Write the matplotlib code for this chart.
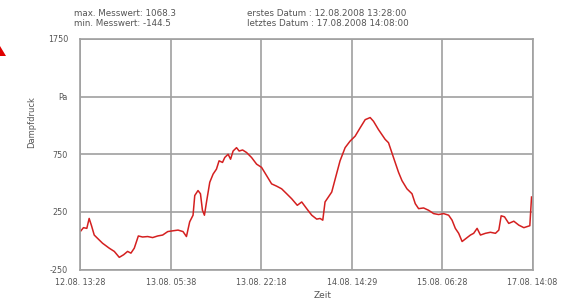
import matplotlib
matplotlib.use("Agg")
import matplotlib.pyplot as plt
import matplotlib.patches as patches

# position along the time axis (in tick intervals) and vapour pressure in Pa
pos = [0.003, 0.033, 0.07, 0.096, 0.122, 0.152, 0.188, 0.244, 0.318, 0.374,
       0.429, 0.477, 0.521, 0.558, 0.595, 0.64, 0.687, 0.743, 0.798, 0.854,
       0.909, 0.965, 1.006, 1.079, 1.134, 1.172, 1.208, 1.245, 1.264, 1.3,
       1.327, 1.349, 1.371, 1.394, 1.43, 1.467, 1.504, 1.533, 1.571, 1.596,
       1.633, 1.66, 1.688, 1.726, 1.755, 1.793, 1.837, 1.892, 1.948, 2.003,
       2.059, 2.114, 2.17, 2.225, 2.281, 2.336, 2.398, 2.447, 2.502, 2.558,
       2.613, 2.65, 2.68, 2.705, 2.742, 2.779, 2.827, 2.871, 2.927, 2.982,
       3.038, 3.093, 3.149, 3.204, 3.241, 3.296, 3.37, 3.407, 3.462, 3.518,
       3.556, 3.611, 3.667, 3.703, 3.74, 3.795, 3.85, 3.906, 3.961, 4.017,
       4.072, 4.11, 4.146, 4.183, 4.221, 4.257, 4.313, 4.349, 4.387, 4.424,
       4.479, 4.534, 4.59, 4.627, 4.653, 4.69, 4.737, 4.793, 4.848, 4.904,
       4.97, 4.989]
druck = [84, 113, 107, 193, 130, 49, 21, -22, -65, -93,
         -144.5, -122, -93, -108, -65, 41, 32, 36, 27, 41,
         49, 79, 84, 92, 79, 36, 164, 221, 392, 435,
         407, 264, 221, 336, 507, 578, 621, 693, 679, 722,
         750, 707, 778, 807, 778, 787, 765, 722, 664, 636,
         564, 493, 473, 450, 407, 364, 307, 336, 278, 221,
         187, 193, 178, 336, 379, 422, 564, 693, 807, 864,
         907, 979, 1050, 1068.3, 1036, 964, 879, 850, 722, 593,
         521, 450, 407, 321, 278, 284, 264, 235, 227, 235,
         221, 178, 107, 64, -7, 15, 49, 64, 107, 49,
         64, 73, 64, 92, 216, 207, 150, 169, 135, 113,
         130, 379]

zeit_labels = ["12.08. 13:28", "13.08. 05:38", "13.08. 22:18",
               "14.08. 14:29", "15.08. 06:28", "17.08. 14:08"]
y_ticks = [-250, 250, 750, 1250, 1750]
y_labels = ["-250", "250", "750", "Pa", "1750"]

grau = "#a0a0a0"
text_c = "#555555"

fig = plt.figure(figsize=(5.72, 3.02), dpi=100)
ax = fig.add_axes([0.1407, 0.1076, 0.7903, 0.7633])

ax.plot(pos, druck, color="#d42020", linewidth=1.1)

ax.set_xlim(0, 5)
ax.set_ylim(-250, 1750)
ax.set_xticks(range(len(zeit_labels)))
ax.set_xticklabels(zeit_labels)
ax.set_yticks(y_ticks)
ax.set_yticklabels(y_labels)
ax.tick_params(length=0, labelsize=5.8, labelcolor=text_c)
ax.tick_params(axis="x", pad=6)
ax.tick_params(axis="y", pad=9)
ax.grid(True, color=grau, linewidth=1.2)
for s in ax.spines.values():
    s.set_color(grau)
    s.set_linewidth(1.2)

fig.text(32 / 572, 1 - 122 / 302, "Dampfdruck", rotation=90,
         ha="center", va="center", fontsize=6, color=text_c)
fig.text(323 / 572, 1 - 295 / 302, "Zeit", ha="center", va="center",
         fontsize=6.5, color=text_c)

fig.text(74 / 572, 1 - 13 / 302, "max. Messwert: 1068.3", ha="left",
         va="center", fontsize=6.3, color=text_c)
fig.text(74 / 572, 1 - 24 / 302, "min. Messwert: -144.5", ha="left",
         va="center", fontsize=6.3, color=text_c)
fig.text(247 / 572, 1 - 13 / 302, "erstes Datum : 12.08.2008 13:28:00",
         ha="left", va="center", fontsize=6.3, color=text_c)
fig.text(247 / 572, 1 - 24 / 302, "letztes Datum : 17.08.2008 14:08:00",
         ha="left", va="center", fontsize=6.3, color=text_c)

# red arrow tip cut off at the left edge
tip = patches.Polygon([(-6 / 572, 1 - 56 / 302), (6 / 572, 1 - 56 / 302),
                       (0, 1 - 46 / 302)], closed=True,
                      transform=fig.transFigure, facecolor="#e00000",
                      edgecolor="none")
fig.patches.append(tip)

fig.savefig("out.png", dpi=100)
